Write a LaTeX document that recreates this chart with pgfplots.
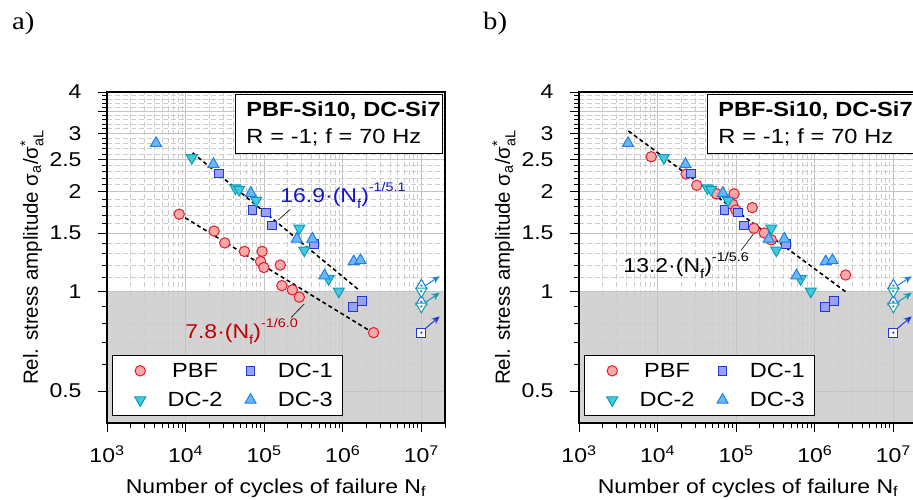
\documentclass[border=0pt]{standalone}
\usepackage{pgfplots}
\pgfplotsset{compat=1.18}
\usepackage{pgfplotstable}
\usepackage{amsmath}
\usepackage{fontspec}
\setmainfont{Liberation Sans}[FakeStretch=1.15]
\newfontfamily\ylabfont{Liberation Sans}
\newfontfamily\labelserif{Liberation Serif}[FakeStretch=1.15]
\usetikzlibrary{arrows.meta}

\definecolor{pbfline}{HTML}{E0202A}
\definecolor{pbffill}{HTML}{F7A8A8}
\definecolor{dconeline}{HTML}{2238D8}
\definecolor{dconefill}{HTML}{98A2F0}
\definecolor{dctwoline}{HTML}{0E9CB4}
\definecolor{dctwofill}{HTML}{45C9DE}
\definecolor{dcthreeline}{HTML}{1E7EEB}
\definecolor{dcthreefill}{HTML}{6EB6F4}
\definecolor{fitblue}{HTML}{1515C8}
\definecolor{fitred}{HTML}{C00000}
\definecolor{shade}{HTML}{D3D3D3}
\definecolor{gridmaj}{HTML}{C4C4C4}
\definecolor{gridmin}{HTML}{CDCDCD}

% DC series are the same in both panels
\pgfplotstableread{
N S
26700 2.27
71000 1.76
105000 1.73
125000 1.58
430000 1.39
1350000 0.895
1750000 0.937
}\dcone
\pgfplotstableread{
N S
12000 2.53
43000 2.05
48000 2.03
79000 1.88
280000 1.55
324000 1.33
660000 1.09
890000 1.00
}\dctwo
\pgfplotstableread{
N S
4200 2.80
22600 2.42
67600 1.98
260000 1.44
410000 1.44
586000 1.115
1380000 1.23
1680000 1.24
}\dcthree

\newcommand{\supx}[1]{\raisebox{0.55em}{\fontsize{12.5}{13}\selectfont #1}}
\newcommand{\subx}[1]{\raisebox{-0.3em}{\fontsize{13}{13}\selectfont #1}}

\pgfplotsset{
  pbf/.style={only marks, mark=*, mark size=5.2pt, color=pbfline,
    mark options={fill=pbffill, line width=1pt}},
  dc1/.style={only marks, mark=square*, mark size=4.4pt, color=dconeline,
    mark options={fill=dconefill, line width=1pt}},
  dc2/.style={only marks, mark=triangle*, mark size=6.4pt, color=dctwoline,
    mark options={rotate=180, fill=dctwofill, line width=1pt}},
  dc3/.style={only marks, mark=triangle*, mark size=6.4pt, color=dcthreeline,
    mark options={fill=dcthreefill, line width=1pt}},
  ro1/.style={only marks, mark=square*, mark size=4.4pt, color=dconeline,
    mark options={fill=white, line width=1pt}, forget plot},
  ro2/.style={only marks, mark=triangle*, mark size=6.4pt, color=dctwoline,
    mark options={rotate=180, fill=white, line width=1pt}, forget plot},
  ro3/.style={only marks, mark=triangle*, mark size=6.4pt, color=dcthreeline,
    mark options={fill=white, line width=1pt}, forget plot},
  dot/.style={only marks, mark=*, mark size=0.9pt, forget plot},
  fitline/.style={black, line width=1.6pt, dash pattern=on 4pt off 3pt, forget plot},
}
% common settings for both panels
\pgfplotsset{
  set layers, scale only axis, width=338pt, height=331pt,
  xmin=1e3, xmax=2e7, ymin=0.4, ymax=4,
  /pgf/number format/assume math mode=true,
  xtick={1e3,1e4,1e5,1e6,1e7},
  xticklabels={10\textsuperscript{3},10\textsuperscript{4},10\textsuperscript{5},10\textsuperscript{6},10\textsuperscript{7}},
  minor xtick={2e3,3e3,4e3,5e3,6e3,7e3,8e3,9e3,2e4,3e4,4e4,5e4,6e4,7e4,8e4,9e4,
    2e5,3e5,4e5,5e5,6e5,7e5,8e5,9e5,2e6,3e6,4e6,5e6,6e6,7e6,8e6,9e6,2e7},
  ytick={0.5,1,1.5,2,2.5,3,3.5,4},
  yticklabels={0.5,1,1.5,2,2.5,3,,4},
  minor ytick={0.6,0.7,0.8,0.9,1.1,1.2,1.3,1.4,1.6,1.7,1.8,1.9,2.1,2.2,2.3,2.4,
    2.6,2.7,2.8,2.9,3.1,3.2,3.3,3.4,3.6,3.7,3.8,3.9},
  tick align=outside, tick pos=left,
  major tick length=9pt, minor tick length=5pt,
  every tick/.style={black, line width=0.8pt},
  axis line style={line width=1.3pt},
  grid=both,
  major grid style={solid, draw=gridmaj, line width=0.8pt},
  minor grid style={draw=gridmin, line width=0.7pt, dash pattern=on 5pt off 3pt},
  tick label style={font=\fontsize{20}{23}\selectfont},
  xticklabel style={anchor=base, yshift=-31pt},
  yticklabel style={anchor=east, xshift=-13pt},
  label style={font=\fontsize{20}{24}\selectfont},
  xlabel style={at={(axis description cs:0.5,-0.2115)}, anchor=base},
  ylabel style={at={(axis description cs:-0.222,0.5)}, anchor=center,
    font=\ylabfont\fontsize{20.5}{24}\selectfont},
  legend columns=2,
  legend image code/.code={\path[draw=none, fill=none] (0pt,-4pt) rectangle (44pt,4pt);
    \draw[#1] plot coordinates {(20pt,0pt)};},
  legend style={at={(rel axis cs:0.014,0.021)}, anchor=south west,
    draw=black, line width=1pt, fill=white, inner xsep=8pt, inner ysep=5.6pt,
    font=\fontsize{20.5}{23}\selectfont, row sep=9.4pt, nodes={inner sep=2pt},
    /tikz/every even column/.append style={column sep=6pt},
    /tikz/every odd column/.append style={column sep=1.3pt}},
}

\newcommand{\dcplots}{%
  \addplot[dc1] table {\dcone};
  \addplot[dc2] table {\dctwo};
  \addplot[dc3] table {\dcthree};
  \legend{PBF,DC-1,DC-2,DC-3}
  % run-outs at 1e7 cycles
  \addplot[ro3] coordinates {(1e7,1.04) (1e7,0.93)};
  \addplot[ro2] coordinates {(1e7,1.00) (1e7,0.90)};
  \addplot[ro1] coordinates {(1e7,0.75)};
  \addplot[dot, dcthreeline] coordinates {(1e7,1.04) (1e7,0.93)};
  \addplot[dot, dctwoline] coordinates {(1e7,1.00) (1e7,0.90)};
  \addplot[dot, dconeline] coordinates {(1e7,0.75)};
  \draw[-{Stealth[length=8pt,width=7pt]}, dcthreeline, line width=1pt] (axis cs:1.12e7,1.04) -- (axis cs:1.71e7,1.11);
  \draw[-{Stealth[length=8pt,width=7pt]}, dctwoline, line width=1pt] (axis cs:1.12e7,0.926) -- (axis cs:1.71e7,0.989);
  \draw[-{Stealth[length=8pt,width=7pt]}, dconeline, line width=1pt] (axis cs:1.12e7,0.771) -- (axis cs:1.71e7,0.840);
}

\newcommand{\infobox}{%
  \node[draw=black, line width=1pt, fill=white, anchor=north east, align=left,
    minimum width=207pt, minimum height=59pt, text width=207pt, inner xsep=0pt, inner ysep=4pt,
    font=\fontsize{20.5}{27}\selectfont] at (rel axis cs:0.994,0.994)
    {\hspace*{11pt}\textbf{PBF-Si10, DC-Si7}\\\hspace*{11pt}R = -1; f = 70 Hz};
}

\begin{document}
\begin{tikzpicture}
\node[anchor=base west, inner sep=0, font=\labelserif\fontsize{25}{28}\selectfont] at (12pt,469.7pt) {a)};
\node[anchor=base west, inner sep=0, font=\labelserif\fontsize{25}{28}\selectfont] at (483pt,469.7pt) {b)};

\begin{loglogaxis}[at={(107pt,76pt)}, anchor=south west,
  xlabel={Number of cycles of failure N\textsubscript{f}},
  ylabel={Rel. stress amplitude σ\textsubscript{a}/σ$^{\text{*}}_{\text{aL}}$}]
\addplot[fill=shade, draw=none, forget plot, on layer=axis background]
  coordinates {(1e3,0.4) (2e7,0.4) (2e7,1) (1e3,1) (1e3,0.4)};
\addplot[pbf] coordinates {
  (8300,1.71) (23100,1.52) (31500,1.40) (56000,1.32) (94000,1.32) (90000,1.23)
  (99000,1.18) (160000,1.20) (168000,1.04) (228000,1.01) (280000,0.96) (2470000,0.75)};
\dcplots
\addplot[fitline] coordinates {(12300,2.62) (1640000,1.005)};
\addplot[fitline] coordinates {(8300,1.71) (2200000,0.76)};
\draw[black, line width=0.6pt] (axis cs:1.52e5,1.644) -- (axis cs:2.14e5,1.768);
\draw[black, line width=0.6pt] (axis cs:2.21e5,0.834) -- (axis cs:3.24e5,0.916);
\node[anchor=base west, inner sep=0, text=fitblue, font=\fontsize{20}{24}\selectfont]
  at (axis cs:1.6e5,1.86) {16.9·(N\subx{f})\supx{-1/5.1}};
\node[anchor=base west, inner sep=0, text=fitred, font=\fontsize{20}{24}\selectfont]
  at (axis cs:9.86e3,0.718) {7.8·(N\subx{f})\supx{-1/6.0}};
\infobox
\end{loglogaxis}

\begin{loglogaxis}[at={(579pt,76pt)}, anchor=south west,
  xlabel={Number of cycles of failure N\textsubscript{f}},
  ylabel={Rel. stress amplitude σ\textsubscript{a}/σ$^{\text{*}}_{\text{aL}}$}]
\addplot[fill=shade, draw=none, forget plot, on layer=axis background]
  coordinates {(1e3,0.4) (2e7,0.4) (2e7,1) (1e3,1) (1e3,0.4)};
\addplot[pbf] coordinates {
  (8300,2.55) (23100,2.26) (31500,2.09) (56000,1.97) (94000,1.97) (90000,1.83)
  (99000,1.76) (160000,1.79) (168000,1.55) (228000,1.50) (280000,1.43) (2470000,1.12)};
\dcplots
\addplot[fitline] coordinates {(4250,3.05) (2570000,0.99)};
\draw[black, line width=0.6pt] (axis cs:1.15e5,1.328) -- (axis cs:1.66e5,1.49);
\node[anchor=base west, inner sep=0, font=\fontsize{20}{24}\selectfont]
  at (axis cs:3.66e3,1.14) {13.2·(N\subx{f})\supx{-1/5.6}};
\infobox
\end{loglogaxis}
\pgfresetboundingbox
\path[use as bounding box] (0pt,0pt) rectangle (913pt,499pt);
\end{tikzpicture}
\end{document}
